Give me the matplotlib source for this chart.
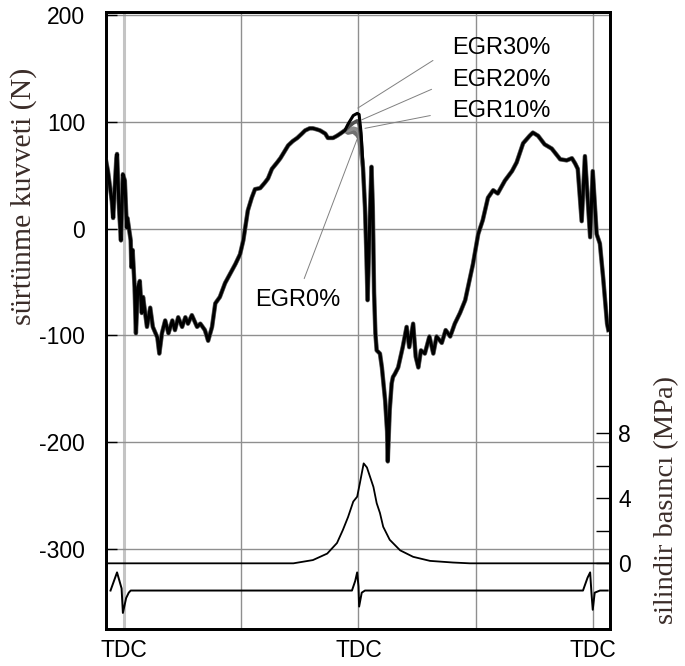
import numpy as np
import matplotlib
matplotlib.use('Agg')
import matplotlib.pyplot as plt

plt.rcParams['font.family'] = ['Liberation Sans', 'DejaVu Sans']
plt.rcParams['axes.unicode_minus'] = False

# crank angle in degrees, TDC of firing at 0
# friction force (N), shared part of all four EGR traces
left_angle = [-388, -385, -379, -377, -372, -371, -368, -365, -362, -359, -356, -355,
              -350, -349, -347, -344, -342, -339, -336, -333, -331, -325, -320, -316,
              -309, -306, -302, -297, -292, -286, -282, -277, -271, -266, -262, -256,
              -248, -243, -236, -231, -225, -220, -213, -205, -197, -189, -182, -177,
              -170, -164, -159, -151, -144, -139, -133, -125, -120, -113, -108, -101,
              -94, -87, -82, -75, -70, -64, -59, -51, -47, -39, -33, -28, -21]
left_force = [64, 54, 26, 10, 66, 70, 20, -11, 51, 45, 1, 10,
              -11, -36, -20, -55, -98, -55, -49, -79, -64, -92, -74, -92,
              -102, -117, -98, -86, -98, -86, -95, -83, -92, -83, -89, -81,
              -92, -89, -95, -105, -92, -70, -64, -51, -42, -33, -24, -11,
              17, 29, 37, 38, 43, 47, 56, 62, 66, 73, 78, 82,
              85, 89, 92, 94, 94, 93, 92, 89, 85, 85, 87, 89, 92]

# near TDC the four traces split
peak_angle = [-16, -8, -2, 1, 4]
peak_egr0 = [90, 91, 88, 85, 72]
peak_egr10 = [92, 94, 93, 90, 78]
peak_egr20 = [95, 99, 101, 98, 84]
peak_egr30 = [98, 106, 108, 107, 90]

right_angle = [7, 10, 12, 14, 17, 20, 22, 24, 26, 28, 33, 36, 41, 44, 45, 48, 51, 53,
               56, 61, 68, 74, 78, 84, 88, 92, 96, 102, 109, 115, 120, 128, 134, 141,
               148, 156, 164, 176, 184, 191, 199, 207, 214, 225, 236, 243, 253, 263,
               268, 276, 286, 297, 310, 320, 328, 333, 337, 343, 348, 356, 360, 366,
               371, 376, 382, 384]
right_force = [57, 20, -20, -67, 0, 58, 20, -60, -98, -114, -117, -130, -161, -190, -218,
               -170, -145, -139, -136, -130, -111, -92, -111, -89, -120, -130, -114,
               -117, -101, -117, -101, -107, -95, -101, -89, -79, -67, -33, -5, 8, 29,
               36, 33, 45, 54, 62, 80, 87, 90, 87, 79, 75, 65, 64, 66, 61, 56, 7, 68,
               -8, 54, -5, -14, -46, -89, -95]

# cylinder pressure (MPa)
p_angle = [-388, -100, -70, -48, -33, -24, -16, -8, -2, 2, 8, 13, 18, 23, 28, 33, 38,
           48, 64, 84, 110, 145, 171, 388]
p_mpa = [0, 0, 0.2, 0.6, 1.25, 2.05, 2.85, 3.8, 4.1, 4.9, 6.15, 5.9, 5.3, 4.7, 3.7,
         3.1, 2.25, 1.45, 0.8, 0.4, 0.15, 0.05, 0, 0]

# TDC pickup signal (drawn in force units)
tdc_angle = [-381, -371, -364, -362, -357, -353, -350, -10, -5, -2, 0, 1, 5, 10,
             345, 352, 356, 358, 360, 363, 371, 383]
tdc_signal = [-339, -322, -337, -360, -346, -341, -339, -339, -330, -322, -335, -354,
              -341, -339, -339, -327, -322, -341, -357, -341, -339, -339]

egr_names = ['EGR0%', 'EGR10%', 'EGR20%', 'EGR30%']
egr_peaks = [peak_egr0, peak_egr10, peak_egr20, peak_egr30]
egr_colors = ['#707070', '#8c8c8c', '#505050', 'black']
egr_widths = [3.2, 2.8, 2.6, 2.2]

fig = plt.figure(figsize=(6.85, 6.66), dpi=100)
ax = fig.add_axes([0.1547, 0.0556, 0.7358, 0.9264])

for name, pk, c, w in zip(egr_names, egr_peaks, egr_colors, egr_widths):
    ang = left_angle + peak_angle + right_angle
    frc = left_force + pk + right_force
    ax.plot(ang, frc, color=c, lw=w, zorder=3)

ax.plot(tdc_angle, tdc_signal, color='black', lw=1.4, zorder=3)

ax.set_xlim(-388, 386.5)
ax.set_ylim(-375, 203)
ax.set_xticks([-360, -180, 0, 180, 360])
ax.set_xticklabels(['TDC', '', 'TDC', '', 'TDC'])
ax.set_yticks([200, 100, 0, -100, -200, -300])
ax.tick_params(axis='x', length=0, labelsize=16.5, pad=7)
ax.tick_params(axis='y', direction='in', length=8, width=1, labelsize=16.5, pad=15)
ax.grid(True, color='#8f8f8f', lw=1.0, zorder=0)
ax.get_xgridlines()[0].set_color('#c4c4c4')
ax.get_xgridlines()[0].set_linewidth(2.2)
for s in ax.spines.values():
    s.set_linewidth(2.0)

# pressure on the right axis
ax2 = ax.twinx()
ax2.plot(p_angle, p_mpa, color='black', lw=1.3, zorder=3)
ax2.set_ylim(-4.04, 33.93)
ax2.set_yticks([0, 4, 8])
ax2.set_yticks([2, 6], minor=True)
ax2.tick_params(axis='y', which='both', direction='in', length=10, width=1,
                labelsize=16.5, pad=6)
for s in ax2.spines.values():
    s.set_linewidth(2.0)

# labels on the traces
lead = dict(arrowstyle='-', color='#808080', lw=0.7)
ax.annotate('EGR30%', xy=(-1, 113), xytext=(144, 169), fontsize=17, va='center',
            arrowprops=dict(lead, relpos=(0, 0.5), shrinkA=14, shrinkB=0))
ax.annotate('EGR20%', xy=(5, 102), xytext=(144, 139), fontsize=17, va='center',
            arrowprops=dict(lead, relpos=(0, 0.5), shrinkA=14, shrinkB=0))
ax.annotate('EGR10%', xy=(10, 94), xytext=(144, 110), fontsize=17, va='center',
            arrowprops=dict(lead, relpos=(0, 0.5), shrinkA=14, shrinkB=0))
ax.annotate('EGR0%', xy=(-2, 84), xytext=(-159, -67), fontsize=17, va='center',
            arrowprops=dict(lead, relpos=(0.53, 1.0), shrinkA=6, shrinkB=0))

lab_color = '#3a2c28'
fig.text(24 / 685, 1 - 196 / 666, 'sürtünme kuvveti (N)', rotation=90, ha='center',
         va='center', fontsize=21.5, family='Liberation Serif', color=lab_color)
fig.text(667 / 685, 1 - 500 / 666, 'silindir basıncı (MPa)', rotation=90, ha='center',
         va='center', fontsize=20.5, family='Liberation Serif', color=lab_color)

fig.savefig('out.png', dpi=100)
